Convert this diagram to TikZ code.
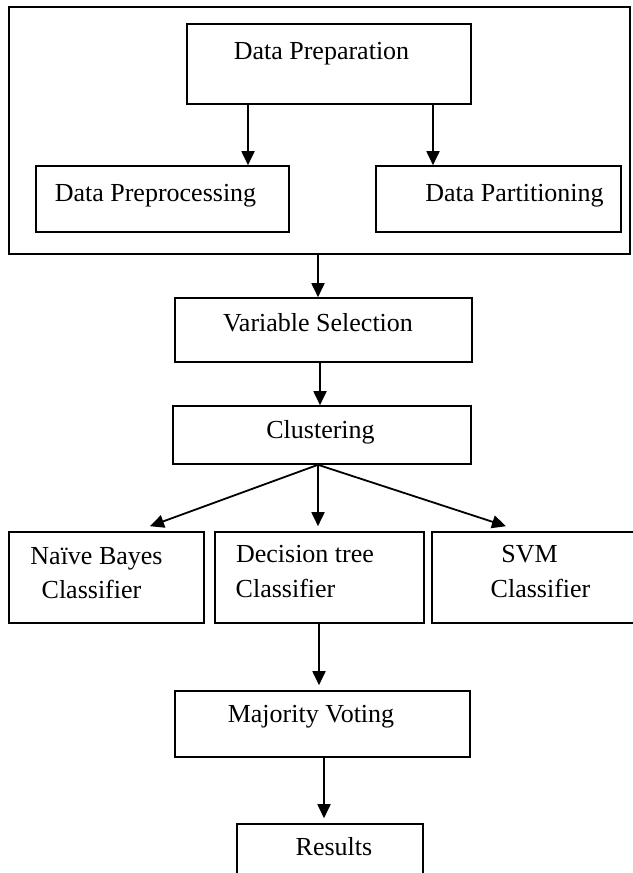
\documentclass[tikz,border=0pt]{standalone}
\usepackage{fontspec}
\setmainfont{Liberation Serif}
\usetikzlibrary{fit,arrows.meta}
\begin{document}
\begin{tikzpicture}[x=1pt,y=-1pt,
  box/.style={draw, line width=1.6pt, inner sep=0pt, rectangle},
  lbl/.style={anchor=base, inner sep=0pt, font=\fontsize{26}{30}\selectfont},
  arr/.style={line width=1.8pt, -{Triangle[length=14pt,width=13pt]}}]
\useasboundingbox (0,0) rectangle (632,873);

% boxes
\node[box, fit={(9,7) (630,254)}] (outer) {};
\node[box, fit={(187,24) (471,104)}] (prep) {};
\node[box, fit={(36,166) (289,232)}] (preproc) {};
\node[box, fit={(376,166) (621,232)}] (part) {};
\node[box, fit={(175,298) (472,362)}] (varsel) {};
\node[box, fit={(173,406) (471,464)}] (clust) {};
\node[box, fit={(9,532) (204,623)}] (nb) {};
\node[box, fit={(215,532) (424,623)}] (dt) {};
\node[box, fit={(432,532) (640,623)}] (svm) {};
\node[box, fit={(175,691) (470,757)}] (mv) {};
\node[box, fit={(237,824) (423,885)}] (res) {};

% labels
\node[lbl] (tprep) at (321.5,59) {Data Preparation};
\node[lbl] (tpreproc) at (155.5,201) {Data Preprocessing};
\node[lbl] (tpart) at (514.5,201) {Data Partitioning};
\node[lbl] (tvarsel) at (318,331) {Variable Selection};
\node[lbl] (tclust) at (320.5,438) {Clustering};
\node[lbl] (tnba) at (96.5,564) {Naïve Bayes};
\node[lbl] (tnbb) at (91.5,598) {Classifier};
\node[lbl] (tdta) at (305,562) {Decision tree};
\node[lbl] (tdtb) at (285.5,597) {Classifier};
\node[lbl] (tsvma) at (529.5,562) {SVM};
\node[lbl] (tsvmb) at (540.5,597) {Classifier};
\node[lbl] (tmv) at (311,722) {Majority Voting};
\node[lbl] (tres) at (334,855) {Results};

% connectors
\draw[arr] ([xshift=-81pt]prep.south) -- ([xshift=-81pt]prep.south |- preproc.north);
\draw[arr] ([xshift=104pt]prep.south) -- ([xshift=104pt]prep.south |- part.north);
\draw[arr] ([xshift=-1.5pt]outer.south) -- ([xshift=-1.5pt]outer.south |- varsel.north);
\draw[arr] ([xshift=-3.5pt]varsel.south) -- ([xshift=-3.5pt]varsel.south |- clust.north);
\coordinate (cs) at ([xshift=-4pt]clust.south);
\draw[arr] (cs) -- ([xshift=43.5pt,yshift=5pt]nb.north);
\draw[arr] (cs) -- ([xshift=-1.5pt,yshift=5pt]dt.north);
\draw[arr] (cs) -- ([xshift=-30pt,yshift=5pt]svm.north);
\draw[arr, shorten >=5pt] ([xshift=-0.5pt]dt.south) -- ([xshift=-0.5pt]dt.south |- mv.north);
\draw[arr, shorten >=5pt] ([xshift=1.5pt]mv.south) -- ([xshift=1.5pt]mv.south |- res.north);
\end{tikzpicture}
\end{document}
